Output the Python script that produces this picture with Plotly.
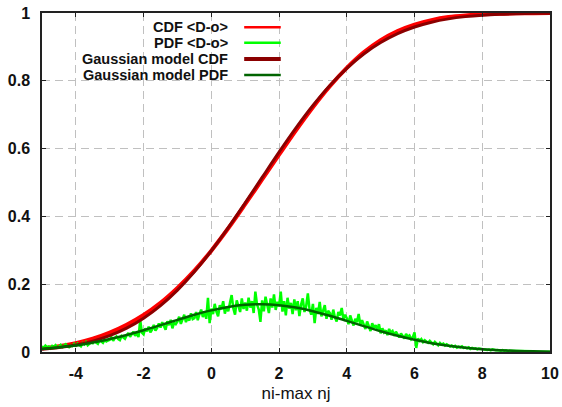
import numpy as np
import plotly.graph_objects as go

# ---------------- data ----------------
x_coarse = [-5.0, -4.5, -4.0, -3.5, -3.0, -2.5, -2.0, -1.5, -1.0, -0.5, 0.0, 0.5, 1.0, 1.5,
            2.0, 2.5, 3.0, 3.5, 4.0, 4.5, 5.0, 5.5, 6.0, 6.5, 7.0, 7.5, 8.0, 8.5, 9.0, 9.5, 10.0]

cdf_data = [0.011, 0.017, 0.026, 0.039, 0.057, 0.080, 0.109, 0.145, 0.189, 0.240, 0.299, 0.365,
            0.436, 0.509, 0.582, 0.654, 0.722, 0.784, 0.838, 0.884, 0.920, 0.947, 0.966, 0.979,
            0.988, 0.993, 0.996, 0.998, 0.999, 0.9995, 1.0]

cdf_model = [0.0079, 0.0130, 0.0208, 0.0322, 0.0485, 0.0705, 0.0998, 0.1370, 0.1826, 0.2367,
             0.2987, 0.3670, 0.4400, 0.5150, 0.5895, 0.6610, 0.7270, 0.7859, 0.8367, 0.8790,
             0.9128, 0.9391, 0.9587, 0.9729, 0.9827, 0.9893, 0.9936, 0.9963, 0.9979, 0.9989, 0.9994]

pdf_model = [0.0090, 0.0136, 0.0191, 0.0279, 0.0381, 0.0503, 0.0642, 0.0793, 0.0948, 0.1097,
             0.1227, 0.1328, 0.1391, 0.1410, 0.1382, 0.1311, 0.1203, 0.1068, 0.0917, 0.0762,
             0.0613, 0.0477, 0.0359, 0.0261, 0.0184, 0.0125, 0.0083, 0.0053, 0.0033, 0.0019, 0.0011]

pdf_x_start = -5.0
pdf_x_step = 0.05
pdf_data = [
    0.017, 0.012, 0.019, 0.014, 0.016, 0.011, 0.018, 0.015, 0.020, 0.013,   # -5.00
    0.016, 0.021, 0.015, 0.019, 0.023, 0.017, 0.014, 0.020, 0.018, 0.024,   # -4.50
    0.019, 0.025, 0.021, 0.017, 0.026, 0.022, 0.029, 0.020, 0.024, 0.028,   # -4.00
    0.026, 0.033, 0.028, 0.024, 0.035, 0.030, 0.027, 0.036, 0.031, 0.034,   # -3.50
    0.036, 0.043, 0.033, 0.041, 0.046, 0.038, 0.035, 0.047, 0.042, 0.039,   # -3.00
    0.049, 0.056, 0.045, 0.053, 0.060, 0.048, 0.055, 0.044, 0.095, 0.057,   # -2.50
    0.052, 0.070, 0.061, 0.075, 0.058, 0.066, 0.080, 0.063, 0.071, 0.084,   # -2.00
    0.072, 0.088, 0.075, 0.066, 0.091, 0.079, 0.095, 0.070, 0.086, 0.082,   # -1.50
    0.090, 0.104, 0.083, 0.099, 0.110, 0.088, 0.101, 0.093, 0.114, 0.097,   # -1.00
    0.100, 0.118, 0.094, 0.112, 0.125, 0.103, 0.120, 0.098, 0.160, 0.085,   # -0.50
    0.128, 0.112, 0.142, 0.119, 0.105, 0.138, 0.126, 0.150, 0.113, 0.134,   # 0.00
    0.120, 0.145, 0.168, 0.128, 0.110, 0.152, 0.136, 0.118, 0.158, 0.127,   # 0.50
    0.146, 0.122, 0.160, 0.131, 0.150, 0.115, 0.178, 0.140, 0.125, 0.089,   # 1.00
    0.152, 0.120, 0.163, 0.138, 0.115, 0.158, 0.131, 0.170, 0.124, 0.148,   # 1.50
    0.135, 0.178, 0.119, 0.150, 0.108, 0.160, 0.128, 0.145, 0.112, 0.155,   # 2.00
    0.123, 0.150, 0.106, 0.140, 0.158, 0.118, 0.135, 0.173, 0.126, 0.110,   # 2.50
    0.142, 0.085, 0.130, 0.112, 0.148, 0.105, 0.126, 0.138, 0.098, 0.122,   # 3.00
    0.115, 0.095, 0.125, 0.102, 0.090, 0.118, 0.108, 0.130, 0.097, 0.110,   # 3.50
    0.100, 0.082, 0.108, 0.090, 0.078, 0.098, 0.088, 0.112, 0.080, 0.094,   # 4.00
    0.083, 0.068, 0.090, 0.074, 0.062, 0.085, 0.071, 0.079, 0.066, 0.082,   # 4.50
    0.055, 0.070, 0.058, 0.064, 0.050, 0.068, 0.057, 0.062, 0.048, 0.060,   # 5.00
    0.052, 0.043, 0.055, 0.046, 0.040, 0.053, 0.045, 0.049, 0.038, 0.044,   # 5.50
    0.058, 0.012, 0.040, 0.033, 0.038, 0.029, 0.035, 0.031, 0.027, 0.033,   # 6.00
    0.028, 0.023, 0.030, 0.024, 0.020, 0.027, 0.022, 0.025, 0.019, 0.023,   # 6.50
    0.020, 0.016, 0.019, 0.015, 0.018, 0.013, 0.016, 0.014, 0.017, 0.012,   # 7.00
    0.013, 0.011, 0.014, 0.009, 0.012, 0.010, 0.011, 0.008, 0.010, 0.009,   # 7.50
    0.009, 0.007, 0.008, 0.006, 0.007, 0.005, 0.008, 0.006, 0.005, 0.006,   # 8.00
    0.005, 0.004, 0.006, 0.004, 0.005, 0.003, 0.004, 0.004, 0.003, 0.004,   # 8.50
    0.003, 0.003, 0.002, 0.003, 0.002, 0.003, 0.002, 0.002, 0.002, 0.002,   # 9.00
    0.002, 0.001, 0.002, 0.001, 0.001, 0.002, 0.001, 0.001, 0.001, 0.001,   # 9.50
    0.001,                                                                  # 10.00
]
pdf_x = np.round(pdf_x_start + pdf_x_step * np.arange(len(pdf_data)), 3)

series_names = ["CDF <D-o>", "PDF <D-o>", "Gaussian model CDF", "Gaussian model PDF"]
x_ticks = [-4, -2, 0, 2, 4, 6, 8, 10]
x_tick_labels = ["-4", "-2", "0", "2", "4", "6", "8", "10"]
y_ticks = [0, 0.2, 0.4, 0.6, 0.8, 1]
y_tick_labels = ["0", "0.2", "0.4", "0.6", "0.8", "1"]

# ---------------- styles ----------------
RED = "#ff0000"
GREEN = "#00ff00"
DRED = "#8b0000"
DGREEN = "#006400"
FONT = "Liberation Sans, Arial, sans-serif"

fig = go.Figure()
fig.add_trace(go.Scatter(x=x_coarse, y=cdf_data, mode="lines", name=series_names[0],
                         line=dict(color=RED, width=4, shape="spline")))
fig.add_trace(go.Scatter(x=pdf_x, y=pdf_data, mode="lines", name=series_names[1],
                         line=dict(color=GREEN, width=2.5)))
fig.add_trace(go.Scatter(x=x_coarse, y=cdf_model, mode="lines", name=series_names[2],
                         line=dict(color=DRED, width=3, shape="spline")))
fig.add_trace(go.Scatter(x=x_coarse, y=pdf_model, mode="lines", name=series_names[3],
                         line=dict(color=DGREEN, width=2.5, shape="spline")))

axis_common = dict(
    showline=True, linecolor="#222222", linewidth=1.5, mirror="ticks",
    ticks="inside", ticklen=4, tickcolor="#222222", tickwidth=1.2,
    showgrid=True, gridcolor="#c0c0c0", gridwidth=1.2, griddash="8px,5px",
    zeroline=False, automargin=False,
    tickfont=dict(family=FONT, size=16, color="#111111", weight="bold"),
)

fig.update_layout(
    width=562, height=407,
    margin=dict(l=42, r=12, t=13, b=55),
    paper_bgcolor="white", plot_bgcolor="white",
    showlegend=False,
    xaxis=dict(range=[-5, 10], tickvals=x_ticks, ticktext=x_tick_labels, ticklabelstandoff=6,
               title=dict(text="ni-max nj", font=dict(family=FONT, size=17, color="#111111"),
                          standoff=6),
               **axis_common),
    yaxis=dict(range=[0, 1], tickvals=y_ticks, ticktext=y_tick_labels, ticklabelstandoff=7,
               **axis_common),
)

# custom legend: text right-aligned, line sample to the right
legend_colors = [RED, GREEN, DRED, DGREEN]
legend_widths = [2.5, 2.5, 4, 2.5]
legend_rows = [0.958, 0.912, 0.864, 0.817]
for name, col, w, yy in zip(series_names, legend_colors, legend_widths, legend_rows):
    fig.add_annotation(xref="paper", yref="paper", x=0.368, y=yy, text="<b>" + name + "</b>",
                       showarrow=False, xanchor="right", yanchor="middle", borderpad=0,
                       font=dict(family=FONT, size=14.5, color="#111111"))
    fig.add_shape(type="line", xref="paper", yref="paper", x0=0.398, x1=0.470, y0=yy, y1=yy,
                  line=dict(color=col, width=w))

fig.write_html("out.html", config={"displayModeBar": False},
               post_script="document.body.style.margin='0px';document.body.style.overflow='hidden';")
